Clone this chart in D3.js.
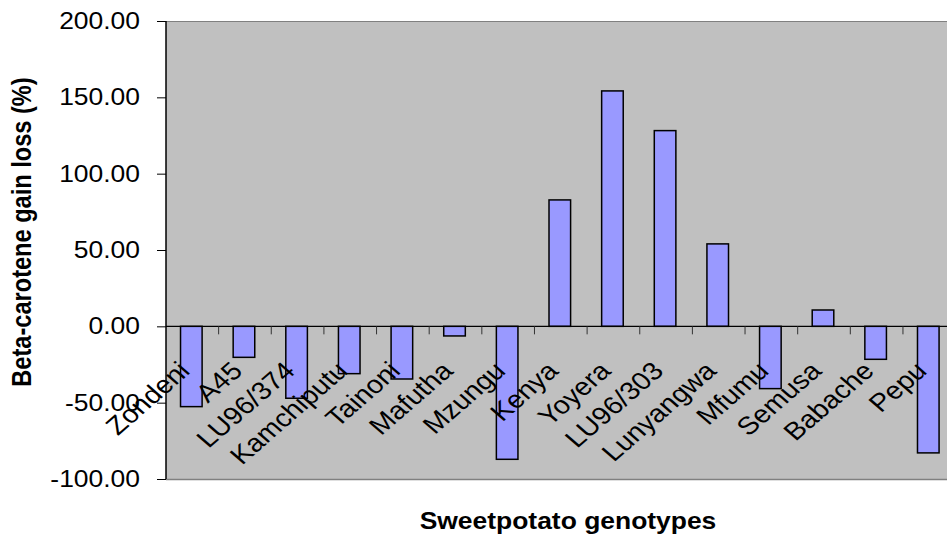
<!DOCTYPE html>
<html>
<head>
<meta charset="utf-8">
<script src="https://cdn.jsdelivr.net/npm/d3@7/dist/d3.min.js"></script>
<style>
  html, body { margin: 0; padding: 0; background: #fff; }
  svg { display: block; font-family: "Liberation Sans", Arial, sans-serif; }
</style>
</head>
<body>
<svg id="chart" width="947" height="540"></svg>
<script>
// Sweetpotato genotypes and their beta-carotene gain/loss (%)
const genotypes = ["Zondeni", "A45", "LU96/374", "Kamchiputu", "Tainoni", "Mafutha", "Mzungu",
  "Kenya", "Yoyera", "LU96/303", "Lunyangwa", "Mfumu", "Semusa", "Babache", "Pepu"];
const betaCaroteneChange = [-52.6, -20.3, -47.1, -31.0, -34.5, -6.3, -87.1,
  82.8, 154.2, 128.2, 54.0, -40.8, 10.7, -21.6, -82.9];
const yTickValues = [-100, -50, 0, 50, 100, 150, 200];
const xTitle = "Sweetpotato genotypes";
const yTitle = "Beta-carotene gain loss (%)";

// text in this chart is drawn slightly widened horizontally
const STRETCH = 1.15;

const svg = d3.select("#chart");
const plot = { left: 166, right: 955.6, top: 21, bottom: 479 };

const x = d3.scaleBand().domain(genotypes).range([plot.left, plot.right]).padding(0);
const y = d3.scaleLinear().domain([-100, 200]).range([plot.bottom, plot.top]);

// plot area
svg.append("rect")
  .attr("x", plot.left).attr("y", plot.top)
  .attr("width", plot.right - plot.left).attr("height", plot.bottom - plot.top)
  .attr("fill", "#C0C0C0");
svg.append("line")
  .attr("x1", plot.left).attr("x2", plot.right)
  .attr("y1", plot.top + 0.5).attr("y2", plot.top + 0.5)
  .attr("stroke", "#808080").attr("stroke-width", 1);
svg.append("line")
  .attr("x1", plot.left).attr("x2", plot.right)
  .attr("y1", plot.bottom + 0.5).attr("y2", plot.bottom + 0.5)
  .attr("stroke", "#808080").attr("stroke-width", 1.5);

// bars
const barW = x.bandwidth() * 0.41;
svg.append("g").selectAll("rect")
  .data(genotypes)
  .join("rect")
  .attr("x", (d) => x(d) + (x.bandwidth() - barW) / 2 - 1)
  .attr("y", (d, i) => y(Math.max(0, betaCaroteneChange[i])))
  .attr("width", barW)
  .attr("height", (d, i) => Math.abs(y(betaCaroteneChange[i]) - y(0)))
  .attr("fill", "#9999FF")
  .attr("stroke", "#000")
  .attr("stroke-width", 1.5);

// y axis
const yAxis = d3.axisLeft(y)
  .tickValues(yTickValues)
  .tickFormat((d) => d.toFixed(2))
  .tickSize(9)
  .tickPadding(17);
const gy = svg.append("g").attr("transform", `translate(${plot.left},0)`).call(yAxis);
gy.select(".domain").attr("stroke", "#000").attr("stroke-width", 1.5)
  .attr("d", `M0,${plot.top}V${plot.bottom}`);
gy.selectAll(".tick line").attr("stroke", "#000");
gy.selectAll(".tick text")
  .attr("x", 0)
  .attr("transform", `translate(-26,0) scale(${STRETCH},1)`)
  .attr("font-size", 23).attr("fill", "#000")
  .attr("font-family", "'Liberation Sans', Arial, sans-serif");

// category axis along the zero line
const y0 = y(0);
svg.append("line")
  .attr("x1", plot.left).attr("x2", plot.right)
  .attr("y1", y0).attr("y2", y0)
  .attr("stroke", "#000").attr("stroke-width", 1.2);
svg.append("g").selectAll("line")
  .data(genotypes.slice(1))
  .join("line")
  .attr("x1", (d) => x(d)).attr("x2", (d) => x(d))
  .attr("y1", y0).attr("y2", y0 + 8)
  .attr("stroke", "#333").attr("stroke-width", 1);

svg.append("g").selectAll("text")
  .data(genotypes)
  .join("text")
  .attr("transform", (d) =>
    `translate(${x(d) + x.bandwidth() / 2 - 1},${y0 + 46}) scale(${STRETCH},1) rotate(-45)`)
  .attr("text-anchor", "end")
  .attr("font-size", 25)
  .attr("fill", "#000")
  .text((d) => d);

// axis titles
svg.append("text")
  .attr("transform", `translate(568,529) scale(${STRETCH},1)`)
  .attr("text-anchor", "middle")
  .attr("font-size", 23).attr("font-weight", "bold")
  .text(xTitle);
svg.append("text")
  .attr("transform", `translate(31,232) scale(${STRETCH},1) rotate(-90)`)
  .attr("text-anchor", "middle")
  .attr("font-size", 23.6).attr("font-weight", "bold")
  .text(yTitle);
</script>
</body>
</html>
